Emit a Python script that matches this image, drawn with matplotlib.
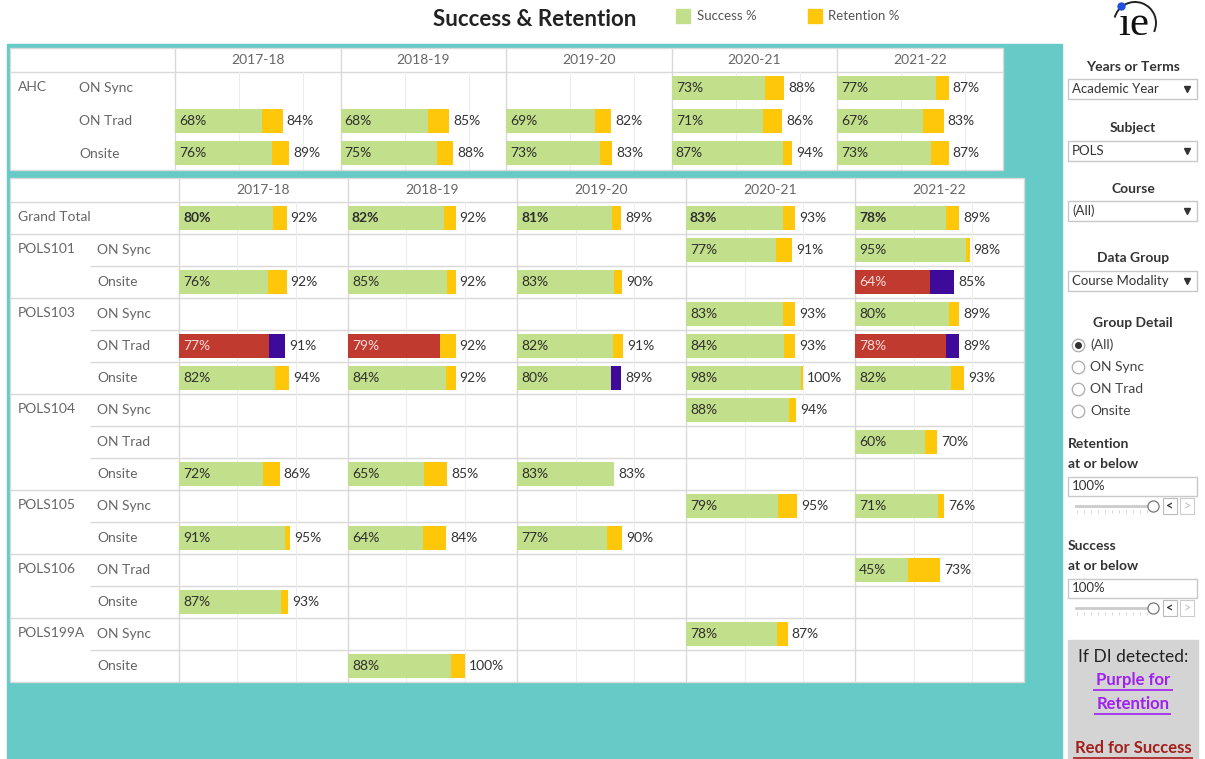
import matplotlib.pyplot as plt
from matplotlib.patches import Rectangle, Arc

plt.rcParams['font.family'] = ['Lato', 'DejaVu Sans']

W, H = 1205, 759

years = ['2017-18', '2018-19', '2019-20', '2020-21', '2021-22']

# upper table (AHC)
ahc_groups = ['ON Sync', 'ON Trad', 'Onsite']
ahc_success = [
    [None, None, None, 73, 77],
    [68, 68, 69, 71, 67],
    [76, 75, 73, 87, 73],
]
ahc_retention = [
    [None, None, None, 88, 87],
    [84, 85, 82, 86, 83],
    [89, 88, 83, 94, 87],
]

# lower table (POLS courses)
course_labels = ['Grand Total', 'POLS101', '', 'POLS103', '', '', 'POLS104', '', '',
                 'POLS105', '', 'POLS106', '', 'POLS199A', '']
group_labels = ['', 'ON Sync', 'Onsite', 'ON Sync', 'ON Trad', 'Onsite', 'ON Sync',
                'ON Trad', 'Onsite', 'ON Sync', 'Onsite', 'ON Trad', 'Onsite',
                'ON Sync', 'Onsite']
pols_success = [
    [80, 82, 81, 83, 78],
    [None, None, None, 77, 95],
    [76, 85, 83, None, 64],
    [None, None, None, 83, 80],
    [77, 79, 82, 84, 78],
    [82, 84, 80, 98, 82],
    [None, None, None, 88, None],
    [None, None, None, None, 60],
    [72, 65, 83, None, None],
    [None, None, None, 79, 71],
    [91, 64, 77, None, None],
    [None, None, None, None, 45],
    [87, None, None, None, None],
    [None, None, None, 78, None],
    [None, 88, None, None, None],
]
pols_retention = [
    [92, 92, 89, 93, 89],
    [None, None, None, 91, 98],
    [92, 92, 90, None, 85],
    [None, None, None, 93, 89],
    [91, 92, 91, 93, 89],
    [94, 92, 89, 100, 93],
    [None, None, None, 94, None],
    [None, None, None, None, 70],
    [86, 85, 83, None, None],
    [None, None, None, 95, 76],
    [95, 84, 90, None, None],
    [None, None, None, None, 73],
    [93, None, None, None, None],
    [None, None, None, 87, None],
    [None, 100, None, None, None],
]
# cells where disproportionate impact was flagged (row, year)
di_success = [(2, 4), (4, 0), (4, 1), (4, 4)]
di_retention = [(2, 4), (4, 0), (4, 4), (5, 2)]

GREEN = '#C2DF8B'
YELLOW = '#FFC709'
RED = '#C13A30'
PURPLE = '#3E0A9A'
TEAL = '#66CBC6'
LINE = '#D9D9D9'

fig = plt.figure(figsize=(W / 100, H / 100), dpi=100)
bg = fig.add_axes([0, 0, 1, 1])
bg.set_xlim(0, W)
bg.set_ylim(H, 0)
bg.axis('off')


def hline(y, x0, x1, c=LINE, lw=1):
    bg.plot([x0, x1], [y, y], color=c, lw=lw, solid_capstyle='butt')


def vline(x, y0, y1, c=LINE):
    bg.plot([x, x], [y0, y1], color=c, lw=1, solid_capstyle='butt')


def draw_bars(x0, col_w, top, row_h, scale, succ, ret, ds, dr, bold_rows):
    n = len(succ)
    for j in range(len(years)):
        cx = x0 + j * col_w
        ax = fig.add_axes([cx / W, 1 - (top + n * row_h) / H, col_w / W, n * row_h / H])
        ax.set_xlim(0, col_w / scale)
        ax.set_ylim(n - 0.5, -0.5)
        ax.axis('off')
        for v in (0.5, 1.0):
            ax.axvline(v, color='#EDEDED', lw=0.8, zorder=0)
        for i in range(n):
            s, r = succ[i][j], ret[i][j]
            if s is None:
                continue
            sc = RED if (i, j) in ds else GREEN
            rc = PURPLE if (i, j) in dr else YELLOW
            ax.barh(i, s / 100, height=0.74, color=sc, zorder=2)
            ax.barh(i, (r - s) / 100, left=s / 100, height=0.74, color=rc, zorder=2)
            tc = '#F6DCDA' if sc == RED else '#2E2E2E'
            fw = 'bold' if i in bold_rows else 'normal'
            ax.annotate(f'{s}%', (0, i), xytext=(4, 0), textcoords='offset pixels',
                        va='center', ha='left', fontsize=10, color=tc, fontweight=fw,
                        zorder=3)
            ax.annotate(f'{r}%', (r / 100, i), xytext=(4, 0), textcoords='offset pixels',
                        va='center', ha='left', fontsize=10, color='#333333', zorder=3)


# teal panel and table backgrounds
bg.add_patch(Rectangle((7, 44), 1055, 720, color=TEAL, zorder=0))
bg.add_patch(Rectangle((10, 48), 993, 121.5, facecolor='white', edgecolor=LINE, lw=1, zorder=1))
bg.add_patch(Rectangle((10, 178), 1014, 504, facecolor='white', edgecolor=LINE, lw=1, zorder=1))

# upper table grid + labels
u_x0, u_w = 175, 165.6
hline(72, 10, 1003)
for j, yr in enumerate(years):
    x = u_x0 + j * u_w
    vline(x, 48, 169.5)
    bg.text(x + u_w / 2, 60.5, yr, ha='center', va='center', fontsize=10, color='#666666')
bg.text(18, 87, 'AHC', ha='left', va='center', fontsize=10, color='#666666')
for i, g in enumerate(ahc_groups):
    bg.text(79, 72 + 32.5 * i + 16.5, g, ha='left', va='center', fontsize=10, color='#666666')

# lower table grid + labels
l_x0, l_w, l_rh = 179, 169, 32
hline(202, 10, 1024)
for j, yr in enumerate(years):
    x = l_x0 + j * l_w
    vline(x, 178, 682)
    bg.text(x + l_w / 2, 190, yr, ha='center', va='center', fontsize=10, color='#666666')
for i in range(len(group_labels)):
    yc = 202 + l_rh * i + l_rh / 2
    if i > 0:
        x_start = 10 if course_labels[i] else 90
        hline(202 + l_rh * i, x_start, 1024)
    if course_labels[i]:
        bg.text(18, yc - 1, course_labels[i], ha='left', va='center', fontsize=10, color='#666666')
    if group_labels[i]:
        bg.text(97, yc, group_labels[i], ha='left', va='center', fontsize=10, color='#666666')

draw_bars(u_x0, u_w, 72, 32.5, 128, ahc_success, ahc_retention, [], [], [])
draw_bars(l_x0, l_w, 202, l_rh, 117, pols_success, pols_retention, di_success, di_retention, [0])

# title and legend
bg.text(535, 19, 'Success & Retention', ha='center', va='center', fontsize=16,
        fontweight='bold', color='#222222')
bg.add_patch(Rectangle((676, 9), 14, 14, color=GREEN))
bg.text(697, 16, 'Success %', ha='left', va='center', fontsize=9.5, color='#555555')
bg.add_patch(Rectangle((808, 9), 14, 14, color=YELLOW))
bg.text(828, 16, 'Retention %', ha='left', va='center', fontsize=9.5, color='#555555')

# logo
bg.text(1134, 25, '\u0131e', ha='center', va='center', fontsize=31,
        family=['Liberation Serif', 'DejaVu Serif'], color='#111111')
bg.plot(1121, 6, 'o', ms=5, color='#1F4FE0')
bg.add_patch(Arc((1135, 23), 42, 42, theta1=195, theta2=25, color='#222222', lw=1.4))

# sidebar filters
def dropdown(y_title, y_box, title, value):
    bg.text(1133, y_title, title, ha='center', va='center', fontsize=10,
            fontweight='bold', color='#333333')
    bg.add_patch(Rectangle((1068, y_box), 129, 20, facecolor='white', edgecolor='#C8C8C8', lw=1))
    bg.text(1072, y_box + 10, value, ha='left', va='center', fontsize=9.5, color='#333333')
    bg.plot(1187, y_box + 10, marker='v', ms=4, color='#333333')


dropdown(67, 79, 'Years or Terms', 'Academic Year')
dropdown(128, 141, 'Subject', 'POLS')
dropdown(189, 201, 'Course', '(All)')
dropdown(258, 271, 'Data Group', 'Course Modality')

bg.text(1133, 323, 'Group Detail', ha='center', va='center', fontsize=10,
        fontweight='bold', color='#333333')
for k, opt in enumerate(['(All)', 'ON Sync', 'ON Trad', 'Onsite']):
    yy = 345 + 22 * k
    bg.plot(1078, yy, 'o', ms=9, mfc='white', mec='#AAAAAA', mew=0.9)
    if k == 0:
        bg.plot(1078, yy, 'o', ms=4, color='#333333')
    bg.text(1090, yy, opt, ha='left', va='center', fontsize=10, color='#444444')


def slider(y_label, label):
    bg.text(1068, y_label, label, ha='left', va='center', fontsize=10,
            fontweight='bold', color='#333333')
    bg.text(1068, y_label + 20, 'at or below', ha='left', va='center', fontsize=10,
            fontweight='bold', color='#333333')
    yb = y_label + 33
    bg.add_patch(Rectangle((1068, yb), 129, 19, facecolor='white', edgecolor='#C8C8C8', lw=1))
    bg.text(1072, yb + 9.5, '100%', ha='left', va='center', fontsize=9.5, color='#333333')
    ys = yb + 29
    bg.plot([1076, 1150], [ys, ys], color='#CCCCCC', lw=2)
    bg.vlines(range(1077, 1152, 7), ys + 4, ys + 7, color='#D5D5D5', lw=0.7)
    bg.plot(1153, ys, 'o', ms=8, mfc='white', mec='#777777', mew=0.9)
    bg.add_patch(Rectangle((1163, ys - 8), 14, 16, facecolor='white', edgecolor='#BBBBBB', lw=0.8))
    bg.text(1170, ys, '<', ha='center', va='center', fontsize=9, fontweight='bold', color='#333333')
    bg.add_patch(Rectangle((1180, ys - 8), 14, 16, facecolor='white', edgecolor='#CCCCCC', lw=0.8))
    bg.text(1187, ys, '>', ha='center', va='center', fontsize=9, color='#BBBBBB')


slider(444, 'Retention')
slider(546, 'Success')

# DI note box
bg.add_patch(Rectangle((1068, 640), 130, 125, color='#D4D4D4'))
bg.text(1133, 657, 'If DI detected:', ha='center', va='center', fontsize=12.5, color='#222222')
bg.text(1133, 680, 'Purple for', ha='center', va='center', fontsize=12,
        fontweight='bold', color='#A020F0')
hline(690, 1093, 1173, c='#A020F0', lw=1.2)
bg.text(1133, 704, 'Retention', ha='center', va='center', fontsize=12,
        fontweight='bold', color='#A020F0')
hline(714, 1094, 1171, c='#A020F0', lw=1.2)
bg.text(1133, 748, 'Red for Success', ha='center', va='center', fontsize=12,
        fontweight='bold', color='#A3201C')
hline(758, 1073, 1193, c='#A3201C', lw=1.2)

fig.savefig('out.png', dpi=100)
